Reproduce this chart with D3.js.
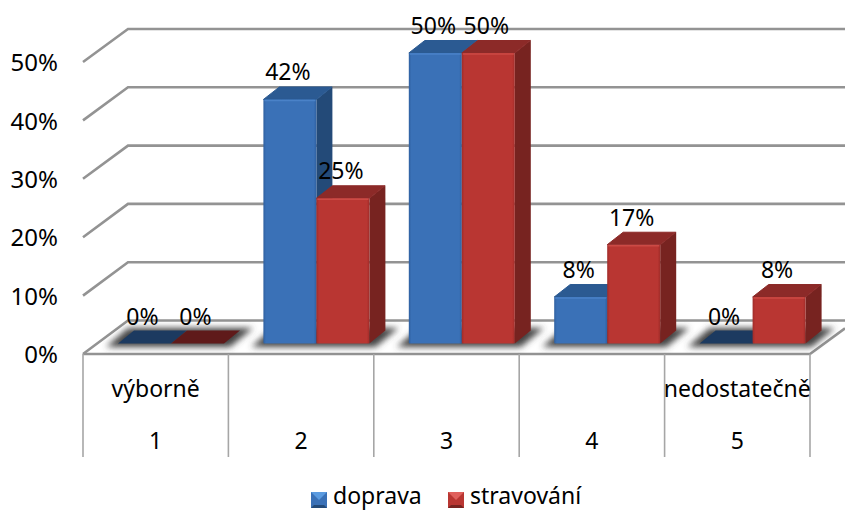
<!DOCTYPE html>
<html>
<head>
<meta charset="utf-8">
<script src="https://cdn.jsdelivr.net/npm/d3@7"></script>
<style>
    html, body { margin: 0; padding: 0; background: #fff; overflow: hidden; }
    svg { display: block; }
    text { font-family: "Noto Sans", sans-serif; fill: #000; }
</style>
</head>
<body>
<svg id="chart"></svg>
<script>
// Chart values
var categories = ["1", "2", "3", "4", "5"];
var categoryNotes = ["výborně", "", "", "", "nedostatečně"];
var seriesNames = ["doprava", "stravování"];
var doprava = [0, 42, 50, 8, 0];
var stravovani = [0, 25, 50, 17, 8];
var percentTicks = [0, 10, 20, 30, 40, 50];

var seriesValues = [doprava, stravovani];

var width = 845, height = 510;
var left = 83, right = 810;
var depthX = 16, depthY = 13;      // depth of a bar
var wallX = 45, wallY = 33;        // depth of the floor
var barsLeft = 35, barsWidth = 106;
var fontSize = 23;

var colours = [
    { front: "#3a71b7", edge: "#2f60a0", light: "#4a82c8", top: "#2b5a92", side: "#234a78", flat: "#1c3a60", tip: "#5b9be0" },
    { front: "#b93632", edge: "#a02c29", light: "#cc4a45", top: "#8c2a28", side: "#772320", flat: "#5f1a1a", tip: "#e0605c" }
];

var svg = d3.select("#chart").attr("width", width).attr("height", height);

// Scales: axis labels sit on the front edge, gridlines on the wall, bars stand on the floor
var x = d3.scaleBand().domain(categories).range([left, right]);
var xSeries = d3.scaleBand().domain(seriesNames).range([0, barsWidth]);
var yFront = d3.scaleLinear().domain([0, 50]).range([354, 62]);
var yWall = d3.scaleLinear().domain([0, 50]).range([320.5, 29]);
var yBar = d3.scaleLinear().domain([0, 50]).range([343.5, 53]);

var defs = svg.append("defs");

defs.append("filter").attr("id", "soft")
    .attr("x", "-30%").attr("y", "-60%").attr("width", "160%").attr("height", "220%")
    .append("feGaussianBlur").attr("stdDeviation", 3);

colours.forEach(function (c, i) {
    var g = defs.append("linearGradient").attr("id", "front" + i);
    g.append("stop").attr("offset", "0").attr("stop-color", c.edge);
    g.append("stop").attr("offset", "0.05").attr("stop-color", c.front);
    g.append("stop").attr("offset", "0.95").attr("stop-color", c.front);
    g.append("stop").attr("offset", "1").attr("stop-color", c.edge);
});

function poly(points) {
    return d3.line()(points) + "Z";
}

// Back wall gridlines and their diagonal returns
var grid = svg.append("g").attr("fill", "none").attr("stroke", "#939393").attr("stroke-width", 2.6);

grid.selectAll("path.wall")
    .data(percentTicks)
    .enter().append("path")
    .attr("class", "wall")
    .attr("d", function (d) {
        return d3.line()([[left, yFront(d)], [left + wallX, yWall(d)], [width, yWall(d)]]);
    });

// Floor, front edge and right return
grid.append("path")
    .attr("d", d3.line()([[left, yFront(0)], [right, yFront(0)], [width, yFront(0) - (width - right) * wallY / wallX]]));

// Category table below the floor
svg.append("g").selectAll("line")
    .data(categories.concat("end"))
    .enter().append("line")
    .attr("x1", function (d, i) { return left + i * x.bandwidth(); })
    .attr("x2", function (d, i) { return left + i * x.bandwidth(); })
    .attr("y1", yFront(0))
    .attr("y2", 457)
    .attr("stroke", "#a6a6a6")
    .attr("stroke-width", 1.6);

svg.append("g").selectAll("text")
    .data(categories)
    .enter().append("text")
    .attr("x", function (d) { return x(d) + x.bandwidth() / 2; })
    .attr("y", 449)
    .attr("text-anchor", "middle")
    .attr("font-size", fontSize)
    .text(function (d) { return d; });

svg.append("g").selectAll("text")
    .data(categoryNotes)
    .enter().append("text")
    .attr("x", function (d, i) { return x(categories[i]) + x.bandwidth() / 2; })
    .attr("y", 397)
    .attr("text-anchor", "middle")
    .attr("font-size", fontSize)
    .text(function (d) { return d; });

// Percent axis
var yAxis = d3.axisLeft(yFront)
    .tickValues(percentTicks)
    .tickSize(0)
    .tickPadding(0)
    .tickFormat(function (d) { return d + "%"; });

svg.append("g")
    .attr("transform", "translate(58,1)")
    .call(yAxis)
    .call(function (g) { g.select(".domain").remove(); })
    .selectAll("text")
    .attr("font-size", 24)
    .style("font-family", "'Noto Sans', sans-serif");

// Soft shadow on the floor under each pair of bars
svg.append("g").selectAll("path")
    .data(categories)
    .enter().append("path")
    .attr("filter", "url(#soft)")
    .attr("fill", "#444")
    .attr("d", function (d) {
        var x0 = x(d) + barsLeft, x1 = x0 + barsWidth, y0 = yBar(0) + 3.5;
        return poly([[x0 - 12, y0], [x1 + 6, y0], [x1 + depthX + 13, y0 - depthY - 6], [x0 + depthX - 6, y0 - depthY - 6]]);
    });

// Bars
var bars = [];
categories.forEach(function (c, i) {
    seriesNames.forEach(function (s, j) {
        bars.push({ category: c, series: s, index: j, value: seriesValues[j][i] });
    });
});

var barGroups = svg.append("g").selectAll("g")
    .data(bars)
    .enter().append("g");

barGroups.each(function (d) {
    var g = d3.select(this);
    var c = colours[d.index];
    var x0 = x(d.category) + barsLeft + xSeries(d.series);
    var x1 = x0 + xSeries.bandwidth();
    var yTop = yBar(d.value), y0 = yBar(0);

    if (d.value === 0) {
        g.append("path")
            .attr("fill", c.flat)
            .attr("d", poly([[x0, y0], [x1, y0], [x1 + depthX, y0 - depthY], [x0 + depthX, y0 - depthY]]));
        return;
    }

    g.append("path")
        .attr("fill", c.side)
        .attr("d", poly([[x1, y0], [x1 + depthX, y0 - depthY], [x1 + depthX, yTop - depthY], [x1, yTop]]));
    g.append("path")
        .attr("fill", c.top)
        .attr("stroke", c.top)
        .attr("stroke-width", 1)
        .attr("stroke-linejoin", "round")
        .attr("d", poly([[x0, yTop], [x1, yTop], [x1 + depthX - 0.5, yTop - depthY + 0.5], [x0 + depthX, yTop - depthY + 0.5]]));
    g.append("rect")
        .attr("x", x0).attr("y", yTop)
        .attr("width", x1 - x0).attr("height", y0 - yTop)
        .attr("rx", 1)
        .attr("fill", "url(#front" + d.index + ")");
    g.append("line")
        .attr("x1", x0 + 1).attr("x2", x1 - 1)
        .attr("y1", yTop + 1).attr("y2", yTop + 1)
        .attr("stroke", c.light)
        .attr("stroke-width", 1.5);
});

// Value labels
svg.append("g").selectAll("text")
    .data(bars)
    .enter().append("text")
    .attr("x", function (d) { return x(d.category) + barsLeft + xSeries(d.series) + xSeries.bandwidth() / 2 - 2; })
    .attr("y", function (d) { return yBar(d.value) - 19; })
    .attr("text-anchor", "middle")
    .attr("font-size", fontSize)
    .text(function (d) { return d.value + "%"; });

// Legend
var legendX = [311, 448];
var legend = svg.append("g").selectAll("g")
    .data(seriesNames)
    .enter().append("g")
    .attr("transform", function (d, i) { return "translate(" + legendX[i] + ",492)"; });

legend.append("rect")
    .attr("width", 16).attr("height", 16)
    .attr("fill", function (d, i) { return colours[i].front; });

legend.append("path")
    .attr("fill", function (d, i) { return colours[i].tip; })
    .attr("d", poly([[0, 0], [16, 0], [8, 8]]));

legend.append("path")
    .attr("fill", function (d, i) { return colours[i].side; })
    .attr("d", poly([[0, 16], [16, 16], [13, 13], [3, 13]]));

legend.append("text")
    .attr("x", 22)
    .attr("y", 12)
    .attr("font-size", fontSize)
    .text(function (d) { return d; });
</script>
</body>
</html>
